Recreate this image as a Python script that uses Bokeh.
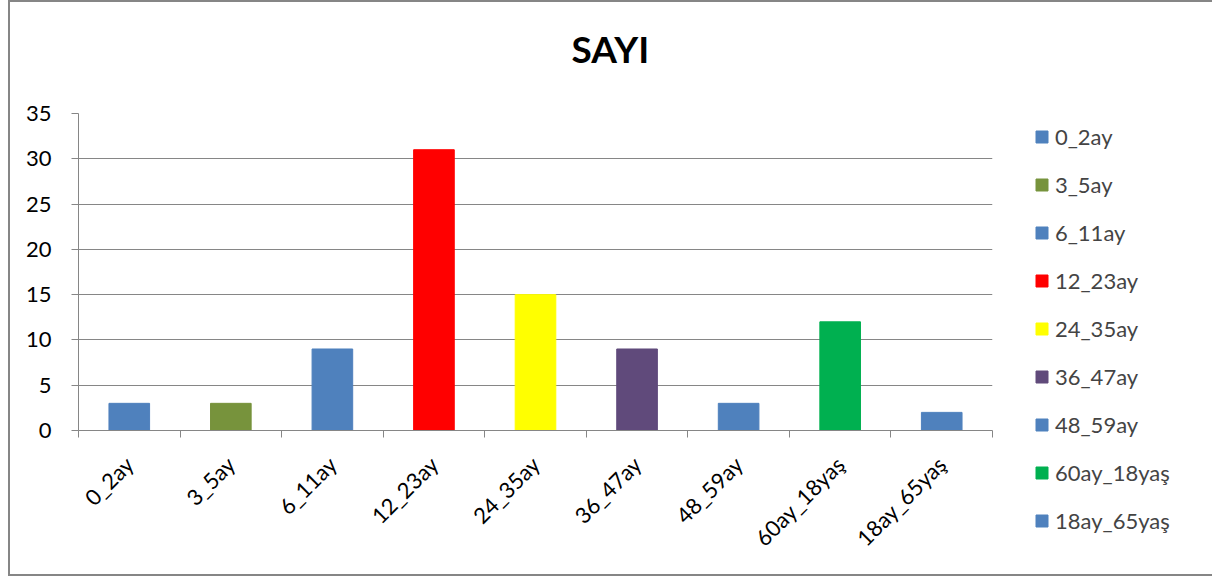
from bokeh.plotting import figure
from bokeh.models import ColumnDataSource, FixedTicker, Legend, Title
from bokeh.embed import file_html
from bokeh.resources import INLINE
import math

categories = ["0_2ay", "3_5ay", "6_11ay", "12_23ay", "24_35ay", "36_47ay", "48_59ay", "60ay_18yaş", "18ay_65yaş"]
values = [3, 3, 9, 31, 15, 9, 3, 12, 2]
colors = ["#4F81BD", "#77933C", "#4F81BD", "#FF0000", "#FFFF00", "#604A7B", "#4F81BD", "#00B050", "#4F81BD"]
y_ticks = [0, 5, 10, 15, 20, 25, 30, 35]
title_text = "SAYI"

FONT = "Lato"
AXIS_GRAY = "#868686"

xs = [i + 0.5 for i in range(len(categories))]
src = ColumnDataSource(dict(x=xs, top=values, color=colors, cat=categories))

p = figure(title=None, width=1196, height=572, frame_width=914, frame_height=317,
           x_range=(0, len(categories)), y_range=(0, 35),
           output_backend="svg", toolbar_location=None,
           min_border_left=68, min_border_top=111, min_border_right=214, min_border_bottom=144)
p.styles = {"border": "2px solid #868686", "margin-left": "8px"}
p.outline_line_color = None

r = p.vbar(x="x", top="top", width=0.4, color="color", source=src, legend_field="cat")

# Title: a thin spacer next to the frame, then the real title above it
spacer = Title(text=" ", text_font_size="1px", standoff=40)
p.add_layout(spacer, "above")
main_title = Title(text=title_text, text_font=FONT, text_font_size="37px",
                   text_font_style="bold", text_color="black",
                   align="left", offset=493, standoff=0)
p.add_layout(main_title, "above")

# X axis
xa = p.xaxis[0]
xa.ticker = FixedTicker(ticks=xs, minor_ticks=list(range(len(categories) + 1)))
xa.major_label_overrides = {x: c for x, c in zip(xs, categories)}
xa.major_tick_out = 0
xa.major_tick_in = 0
xa.minor_tick_out = 7
xa.minor_tick_in = 0
xa.minor_tick_line_color = AXIS_GRAY
xa.axis_line_color = AXIS_GRAY
xa.major_label_orientation = math.pi / 4
xa.major_label_text_font = FONT
xa.major_label_text_font_size = "22px"
xa.major_label_text_color = "black"
xa.major_label_standoff = 23

# Y axis
ya = p.yaxis[0]
ya.ticker = FixedTicker(ticks=y_ticks)
ya.major_tick_out = 7
ya.major_tick_in = 0
ya.minor_tick_line_color = None
ya.major_tick_line_color = AXIS_GRAY
ya.axis_line_color = AXIS_GRAY
ya.major_label_text_font = FONT
ya.major_label_text_font_size = "22px"
ya.major_label_text_color = "black"
ya.major_label_standoff = 20

p.xgrid.grid_line_color = None
p.ygrid.ticker = FixedTicker(ticks=y_ticks)
p.ygrid.grid_line_color = AXIS_GRAY
p.ygrid.grid_line_alpha = 1.0

# Legend on the right side panel
leg = p.legend[0]
p.center = [c for c in p.center if not isinstance(c, Legend)]
leg.location = (42, -104)
leg.border_line_color = None
leg.background_fill_alpha = 0
leg.label_text_font = FONT
leg.label_text_font_size = "22px"
leg.glyph_width = 15
leg.glyph_height = 15
leg.label_height = 22
leg.spacing = 21
leg.padding = 0
leg.margin = 0
leg.label_standoff = 6
p.add_layout(leg, "right")

open("out.html", "w").write(file_html(p, INLINE))
